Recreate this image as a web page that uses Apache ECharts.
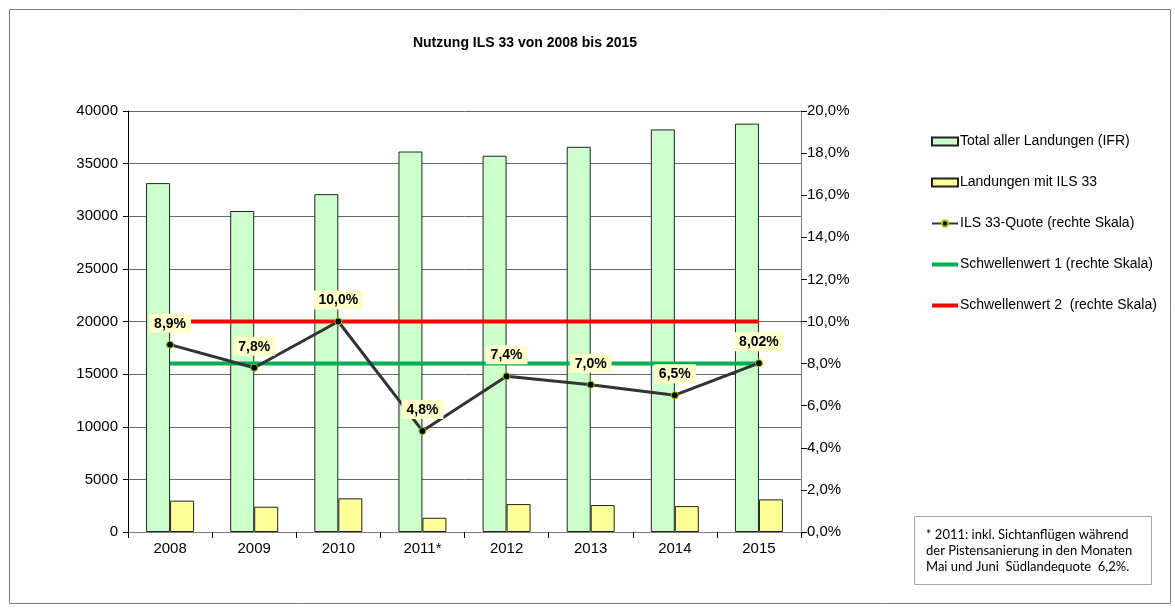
<!DOCTYPE html>
<html><head><meta charset="utf-8">
<script src="https://cdn.jsdelivr.net/npm/echarts@6/dist/echarts.min.js"></script>
<style>html,body{margin:0;padding:0;background:#fff}#c{width:1175px;height:608px}</style>
</head><body><div id="c"></div>
<script>
const years = ['2008','2009','2010','2011*','2012','2013','2014','2015'];
const totalLandings = [33150, 30500, 32100, 36150, 35750, 36600, 38250, 38800];
const ilsLandings = [2980, 2400, 3200, 1350, 2650, 2560, 2460, 3100];
const ilsQuote = [8.9, 7.8, 10.0, 4.8, 7.4, 7.0, 6.5, 8.02];
const threshold1 = [8, 8, 8, 8, 8, 8, 8, 8];
const threshold2 = [10, 10, 10, 10, 10, 10, 10, 10];
const footnote = ['* 2011: inkl. Sichtanflügen während', 'der Pistensanierung in den Monaten', 'Mai und Juni  Südlandequote  6,2%.'];

const fmtPct = v => (Math.round(v * 10) === v * 10 ? v.toFixed(1) : String(v)).replace('.', ',') + '%';
const font = 'Liberation Sans, Arial, sans-serif';
const lineIcon = 'path://M0,0H26V4H0Z';

const chart = echarts.init(document.getElementById('c'), null, {renderer: 'canvas'});
chart.setOption({
  animation: false,
  backgroundColor: '#fff',
  textStyle: {fontFamily: font},
  title: {
    text: 'Nutzung ILS 33 von 2008 bis 2015',
    left: 520, textAlign: 'center', top: 31,
    textStyle: {fontFamily: font, fontSize: 14, fontWeight: 'bold', color: '#000'}
  },
  graphic: [
    {type: 'rect', left: 7, top: 7, shape: {width: 1161, height: 594}, style: {fill: null, stroke: '#7f7f7f', lineWidth: 1}, silent: true, z: -10},
    {type: 'rect', left: 914, top: 516, shape: {width: 237, height: 68}, style: {fill: '#fff', stroke: '#a6a6a6', lineWidth: 1}, silent: true},
    {type: 'text', left: 926, top: 527, style: {text: footnote.join('\n'), font: '13px Lato, sans-serif', lineHeight: 16, fill: '#000'}, silent: true}
  ],
  legend: {
    orient: 'vertical', left: 926, top: 129, itemGap: 26,
    itemWidth: 26, itemHeight: 8, symbolKeepAspect: true,
    textStyle: {fontFamily: font, fontSize: 14, color: '#000', lineHeight: 15, padding: [0, 0, 0, -3]},
    data: [
      {name: 'Total aller Landungen (IFR)', icon: 'rect'},
      {name: 'Landungen mit ILS 33', icon: 'rect'},
      {name: 'ILS 33-Quote (rechte Skala)'},
      {name: 'Schwellenwert 1 (rechte Skala)', icon: lineIcon},
      {name: 'Schwellenwert 2  (rechte Skala)', icon: lineIcon}
    ]
  },
  grid: {left: 128, right: 374, top: 111, bottom: 76},
  xAxis: {
    type: 'category', data: years,
    axisLine: {lineStyle: {color: '#7f7f7f', width: 1}},
    axisTick: {show: true, length: 6, lineStyle: {color: '#000'}},
    axisLabel: {fontFamily: font, fontSize: 15, color: '#000', margin: 9}
  },
  yAxis: [
    {
      type: 'value', min: 0, max: 40000, interval: 5000,
      axisLine: {show: true, lineStyle: {color: '#000'}},
      axisTick: {show: true, length: 5, lineStyle: {color: '#000'}},
      axisLabel: {fontFamily: font, fontSize: 15, color: '#000', margin: 10, formatter: v => String(v)},
      splitLine: {show: true, lineStyle: {color: '#666', width: 1}}
    },
    {
      type: 'value', min: 0, max: 20, interval: 2, position: 'right',
      axisLine: {show: true, lineStyle: {color: '#7f7f7f'}},
      axisTick: {show: true, length: 6, lineStyle: {color: '#000'}},
      axisLabel: {fontFamily: font, fontSize: 15, color: '#000', margin: 6, formatter: v => v.toFixed(1).replace('.', ',') + '%'},
      splitLine: {show: false}
    }
  ],
  series: [
    {
      name: 'Total aller Landungen (IFR)', type: 'bar', data: totalLandings,
      barWidth: 24, barGap: '0%',
      itemStyle: {color: '#ccffcc', borderColor: '#222', borderWidth: 1}
    },
    {
      name: 'Landungen mit ILS 33', type: 'bar', data: ilsLandings,
      barWidth: 24, barGap: '0%',
      itemStyle: {color: '#ffff99', borderColor: '#222', borderWidth: 1}
    },
    {
      name: 'Schwellenwert 1 (rechte Skala)', type: 'line', yAxisIndex: 1, data: threshold1,
      symbol: 'none', lineStyle: {color: '#00b050', width: 4}, itemStyle: {color: '#00b050'}, z: 3
    },
    {
      name: 'Schwellenwert 2  (rechte Skala)', type: 'line', yAxisIndex: 1, data: threshold2,
      symbol: 'none', lineStyle: {color: '#ff0000', width: 4}, itemStyle: {color: '#ff0000'}, z: 3
    },
    {
      name: 'ILS 33-Quote (rechte Skala)', type: 'line', yAxisIndex: 1, data: ilsQuote,
      symbol: 'circle', symbolSize: 7,
      lineStyle: {color: '#333333', width: 3},
      itemStyle: {color: '#000', borderColor: '#99cc00', borderWidth: 1},
      z: 4,
      label: {
        show: true, position: 'top', distance: 8,
        formatter: p => fmtPct(p.value),
        fontFamily: font, fontSize: 14, fontWeight: 'bold', color: '#000',
        backgroundColor: '#ffffcc', padding: [3, 5, 2, 5]
      },
      labelLayout: {hideOverlap: false}
    }
  ]
});
</script></body></html>
